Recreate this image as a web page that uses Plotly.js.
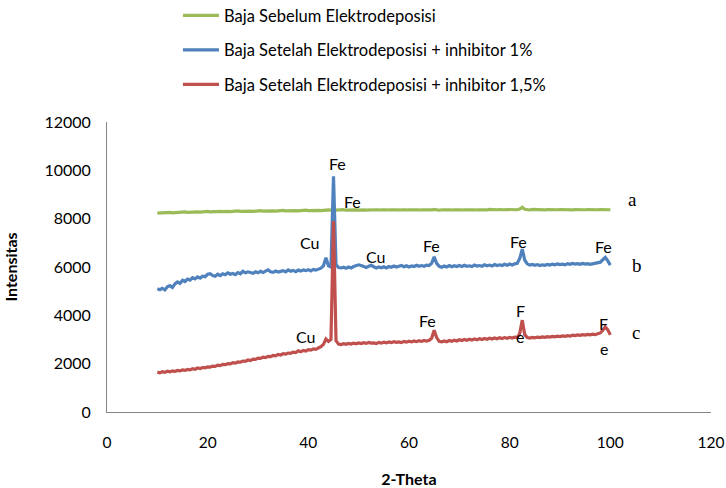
<!DOCTYPE html>
<html>
<head>
<meta charset="utf-8">
<script src="https://cdn.plot.ly/plotly-3.0.1.min.js"></script>
<style>
html,body{margin:0;padding:0;background:#fff;}
#chart{width:726px;height:488px;}
</style>
</head>
<body>
<div id="chart"></div>
<script>
// 2-Theta (degrees)
const theta = [
 10,10.5,11,11.5,12,12.5,13,13.5,14,14.5,15,15.5,16,16.5,17,17.5,18,18.5,19,19.5,
 20,20.5,21,21.5,22,22.5,23,23.5,24,24.5,25,25.5,26,26.5,27,27.5,28,28.5,29,29.5,
 30,30.5,31,31.5,32,32.5,33,33.5,34,34.5,35,35.5,36,36.5,37,37.5,38,38.5,39,39.5,
 40,40.5,41,41.5,42,42.5,43,43.5,44,44.5,45,45.5,46,46.5,47,47.5,48,48.5,49,49.5,
 50,50.5,51,51.5,52,52.5,53,53.5,54,54.5,55,55.5,56,56.5,57,57.5,58,58.5,59,59.5,
 60,60.5,61,61.5,62,62.5,63,63.5,64,64.5,65,65.5,66,66.5,67,67.5,68,68.5,69,69.5,
 70,70.5,71,71.5,72,72.5,73,73.5,74,74.5,75,75.5,76,76.5,77,77.5,78,78.5,79,79.5,
 80,80.5,81,81.5,82,82.5,83,83.5,84,84.5,85,85.5,86,86.5,87,87.5,88,88.5,89,89.5,
 90,90.5,91,91.5,92,92.5,93,93.5,94,94.5,95,95.5,96,96.5,97,97.5,98,98.5,99,99.5,
 100
];

// a: Baja Sebelum Elektrodeposisi
const sebelum = [
 8230,8240,8220,8250,8240,8260,8240,8250,8270,8250,8260,8280,8260,8270,8290,8270,8280,8270,8290,8280,
 8300,8280,8290,8310,8290,8300,8290,8310,8300,8290,8310,8300,8320,8300,8310,8300,8320,8310,8300,8320,
 8310,8330,8310,8320,8310,8330,8320,8310,8330,8320,8340,8320,8330,8320,8340,8330,8320,8340,8330,8350,
 8330,8340,8330,8350,8340,8330,8350,8340,8360,8350,8380,8350,8360,8350,8370,8350,8360,8350,8370,8360,
 8350,8370,8360,8350,8370,8360,8370,8350,8360,8370,8350,8360,8370,8360,8350,8370,8360,8370,8350,8360,
 8370,8360,8350,8370,8360,8370,8360,8350,8370,8360,8380,8360,8350,8370,8360,8370,8350,8360,8370,8360,
 8380,8360,8370,8360,8380,8370,8360,8370,8360,8380,8370,8360,8380,8370,8360,8370,8380,8360,8370,8380,
 8370,8360,8380,8370,8400,8470,8390,8370,8360,8380,8370,8360,8380,8370,8360,8380,8370,8380,8360,8370,
 8380,8370,8360,8380,8370,8360,8380,8370,8380,8360,8370,8380,8370,8360,8380,8370,8380,8370,8390,8380,
 8370
];

// b: Baja Setelah Elektrodeposisi + inhibitor 1%
const inhibitor1 = [
 5100,5060,5120,5050,5180,5230,5150,5300,5380,5320,5450,5400,5500,5460,5560,5510,5590,5540,5620,5600,
 5700,5720,5650,5620,5700,5640,5720,5680,5760,5700,5730,5680,5770,5720,5820,5760,5800,5780,5740,5800,
 5760,5820,5770,5830,5880,5800,5780,5830,5790,5820,5850,5800,5880,5820,5860,5810,5870,5830,5880,5850,
 5890,5840,5900,5870,5920,5950,6050,6380,6050,6000,9750,6100,5980,5960,5990,5950,6000,5960,6020,6060,
 6090,6060,6010,5980,6030,6070,6010,5960,6000,5970,6010,5960,6020,5990,6040,6000,6030,6060,6010,6050,
 6000,6040,6020,6070,6030,6060,6030,6080,6060,6150,6420,6150,6030,5990,6040,6000,6060,6010,6050,6020,
 6060,6020,6070,6030,6050,6020,6080,6040,6060,6030,6090,6050,6080,6040,6100,6060,6090,6060,6110,6070,
 6120,6080,6130,6150,6350,6740,6280,6130,6080,6110,6070,6100,6060,6090,6070,6110,6080,6120,6090,6130,
 6100,6120,6090,6140,6110,6150,6120,6140,6110,6150,6120,6140,6110,6130,6150,6160,6200,6300,6400,6250,
 6080
];

// c: Baja Setelah Elektrodeposisi + inhibitor 1,5%
const inhibitor15 = [
 1650,1620,1670,1640,1690,1660,1700,1680,1720,1700,1740,1720,1760,1740,1790,1770,1820,1800,1840,1830,
 1870,1860,1900,1890,1940,1920,1970,1960,2000,1990,2040,2020,2070,2060,2110,2100,2150,2130,2190,2180,
 2230,2220,2270,2250,2300,2290,2340,2320,2380,2360,2410,2400,2440,2430,2480,2460,2530,2490,2550,2520,
 2580,2560,2610,2590,2650,2700,2800,3020,2920,3000,7900,2950,2810,2790,2830,2800,2840,2810,2850,2820,
 2860,2830,2870,2840,2880,2850,2860,2830,2880,2850,2890,2860,2900,2870,2910,2880,2900,2870,2920,2890,
 2930,2900,2940,2910,2950,2920,2960,2930,2970,3050,3380,3080,2920,2900,2940,2910,2960,2930,2970,2940,
 2990,2960,3000,2970,3010,2980,3020,2990,3030,3000,3040,3010,3050,3020,3060,3030,3070,3040,3080,3050,
 3090,3060,3100,3080,3250,3800,3200,3080,3060,3090,3070,3100,3080,3110,3090,3120,3100,3130,3110,3140,
 3120,3150,3130,3160,3140,3180,3160,3190,3170,3200,3180,3210,3190,3220,3200,3240,3270,3380,3520,3400,
 3190
];

const seriesNames = [
 'Baja Sebelum Elektrodeposisi',
 'Baja Setelah Elektrodeposisi + inhibitor 1%',
 'Baja Setelah Elektrodeposisi + inhibitor 1,5%'
];

// peak labels (text, 2-theta position, intensity position)
const peakText = ['Fe','Fe','Cu','Cu','Cu','Fe','Fe','Fe','F','e','Fe','F','e'];
const peakX    = [45.7,48.7,40.3,39.5,53.4,64.4,63.6,81.7,82.1,82.1,98.6,98.7,98.7];
const peakY    = [10300,8730,7030,3140,6450,6870,3780,7070,4220,3140,6830,3680,2610];

// curve letters
const curveText = ['a','b','c'];
const curveX = [104.5,105.3,105.1];
const curveY = [8810,6080,3310];

const FONT = 'Lato, "Liberation Sans", sans-serif';
const colors = ['#9BBB59','#4F81BD','#C0504D'];
const ys = [sebelum, inhibitor1, inhibitor15];

const traces = ys.map((y,i)=>({
  x: theta, y: y, type:'scatter', mode:'lines',
  name: seriesNames[i], legendgroup: 'g'+i,
  line:{color:colors[i], width:3.2}
}));

const annotations = [];
peakText.forEach((t,i)=>annotations.push({
  x: peakX[i], y: peakY[i], xref:'x', yref:'y', text:t, showarrow:false,
  font:{family:FONT, size:16, color:'#000'}
}));
curveText.forEach((t,i)=>annotations.push({
  x: curveX[i], y: curveY[i], xref:'x', yref:'y', text:t, showarrow:false,
  font:{family:'"Liberation Serif", serif', size:19, color:'#000'}
}));

const layout = {
  width:726, height:488,
  margin:{l:107, r:15, t:122, b:76, pad:0, autoexpand:false},
  paper_bgcolor:'#fff', plot_bgcolor:'#fff',
  font:{family:FONT, size:15, color:'#000'},
  showlegend:true,
  legend:{x:0.1175, y:1.427, xanchor:'left', yanchor:'top', orientation:'v',
          itemwidth:36, tracegroupgap:10, font:{family:FONT, size:16.5, color:'#000'},
          bgcolor:'rgba(0,0,0,0)'},
  xaxis:{range:[0,120], dtick:20, tick0:0, showgrid:false, zeroline:false,
         showline:true, linecolor:'#868686', linewidth:1, ticks:'',
         ticklabelstandoff:16, tickfont:{family:FONT, size:15.5, color:'#000'},
         title:{text:'<b>2-Theta</b>', font:{family:FONT, size:16, color:'#000'}, standoff:27}},
  yaxis:{range:[0,12000], dtick:2000, tick0:0, tickformat:'d', showgrid:false, zeroline:false,
         showline:true, linecolor:'#868686', linewidth:1, ticks:'', automargin:true,
         ticklabelstandoff:12, tickfont:{family:FONT, size:16, color:'#000'},
         title:{text:'<b>Intensitas</b>', font:{family:FONT, size:16, color:'#000'}, standoff:22}},
  annotations: annotations
};

Plotly.newPlot('chart', traces, layout, {displayModeBar:false, staticPlot:true});
</script>
</body>
</html>
